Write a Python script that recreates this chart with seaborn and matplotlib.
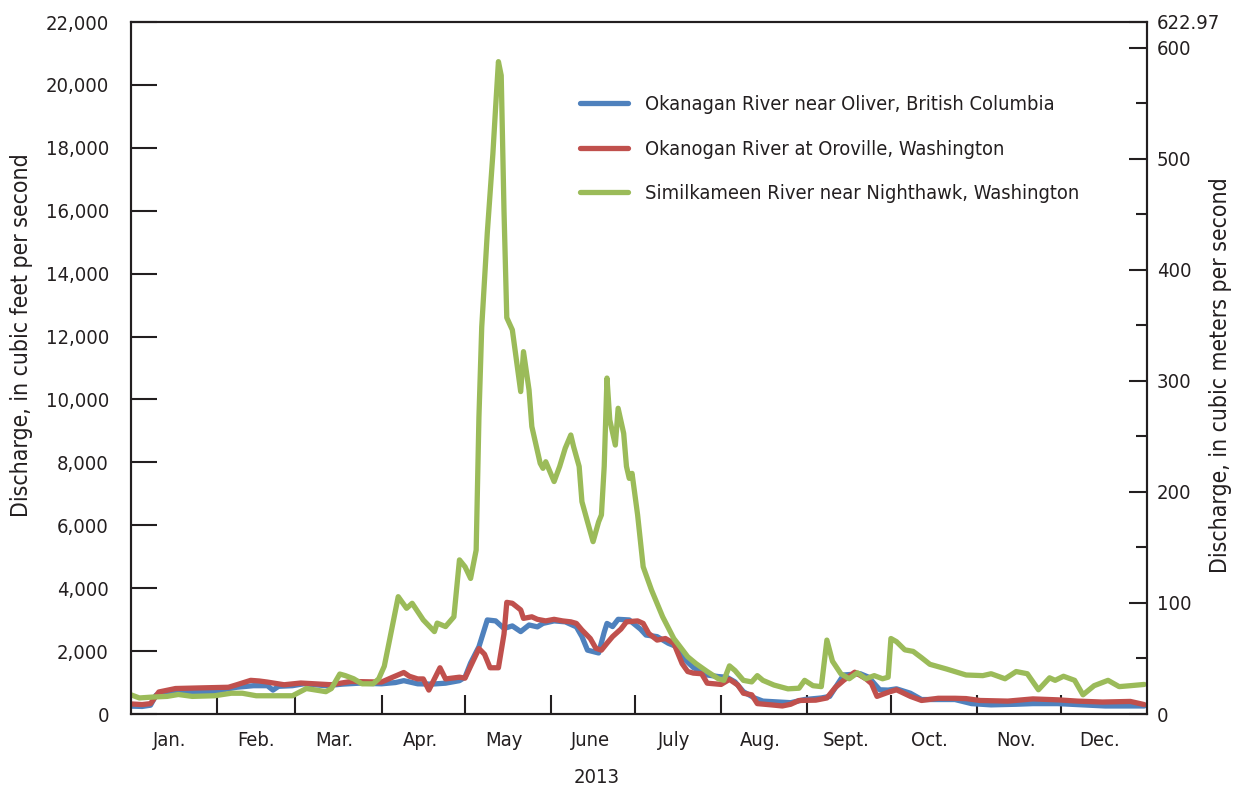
import numpy as np
import pandas as pd
import matplotlib
matplotlib.use("Agg")
import matplotlib.pyplot as plt
import matplotlib.dates as mdates
from matplotlib.ticker import FixedLocator, FixedFormatter, NullFormatter
from matplotlib.lines import Line2D
import seaborn as sns

# Daily discharge, 2013 (day offset from Jan 1, cubic feet per second)
oliver_day = [0, 4, 7, 9, 12, 20, 30, 38, 44, 49, 51, 53, 58, 62, 70, 76, 82, 90, 95, 98,
              103, 108, 113, 118, 120, 122, 125, 128, 131, 134, 137, 140, 143, 146, 148,
              152, 156, 160, 162, 164, 168, 170, 171, 173, 175, 179, 183, 185, 189, 193,
              196, 199, 202, 207, 211, 214, 217, 220, 224, 227, 233, 237, 242, 248, 251,
              254, 256, 262, 265, 269, 272, 275, 280, 284, 290, 296, 302, 309, 318, 324,
              333, 342, 350, 359, 364]
oliver_cfs = [250, 240, 280, 600, 680, 700, 720, 850, 900, 900, 760, 880, 900, 960, 900,
              950, 980, 960, 1000, 1060, 960, 950, 980, 1060, 1170, 1620, 2140, 2990, 2960,
              2720, 2800, 2620, 2830, 2770, 2880, 2960, 2930, 2770, 2460, 2030, 1940, 2600,
              2880, 2780, 3010, 2990, 2700, 2510, 2460, 2250, 2140, 1730, 1480, 1240, 1190,
              1170, 1020, 710, 510, 410, 380, 360, 460, 510, 560, 970, 1240, 1280, 1170,
              770, 760, 800, 660, 460, 460, 460, 330, 290, 310, 330, 330, 290, 255, 255, 255]

oroville_day = [0, 4, 7, 10, 16, 25, 35, 38, 43, 46, 49, 55, 61, 72, 79, 90, 94, 98, 100,
                103, 105, 107, 111, 113, 118, 120, 122, 125, 127, 129, 132, 134, 135, 137,
                140, 141, 144, 146, 149, 152, 155, 158, 160, 162, 165, 167, 169, 171, 173,
                176, 178, 182, 184, 186, 189, 192, 195, 196, 198, 200, 202, 205, 207, 212,
                215, 218, 220, 223, 225, 230, 234, 237, 240, 246, 250, 253, 256, 260, 264,
                266, 268, 272, 275, 280, 284, 290, 296, 300, 305, 315, 324, 333, 340, 349,
                359, 364]
oroville_cfs = [320, 300, 330, 700, 810, 830, 850, 930, 1070, 1050, 1015, 930, 985, 930,
                1035, 1015, 1170, 1320, 1200, 1115, 1115, 760, 1470, 1115, 1170, 1140, 1520,
                2080, 1900, 1470, 1470, 2540, 3550, 3520, 3310, 3040, 3090, 3010, 2960, 3010,
                2960, 2930, 2880, 2670, 2400, 2090, 2030, 2250, 2460, 2700, 2930, 2960, 2880,
                2560, 2350, 2400, 2250, 2030, 1600, 1350, 1300, 1280, 980, 940, 1100, 920,
                660, 610, 330, 290, 255, 310, 430, 440, 510, 840, 1070, 1330, 1120, 970, 560,
                690, 770, 560, 430, 500, 500, 490, 430, 410, 480, 450, 410, 380, 400, 300]

nighthawk_day = [0, 3, 8, 13, 17, 22, 30, 36, 40, 45, 58, 63, 70, 72, 75, 77, 80, 83, 87,
                 89, 91, 93, 96, 99, 101, 105, 109, 110, 113, 116, 118, 120, 122, 124, 125,
                 126, 128, 130, 131, 132, 133, 134, 135, 137, 140, 141, 143, 144, 147, 148,
                 149, 152, 154, 156, 158, 159, 161, 162, 164, 166, 168, 169, 170, 171, 172,
                 174, 175, 177, 178, 179, 180, 182, 184, 187, 191, 195, 200, 203, 207, 211,
                 213, 215, 217, 220, 223, 225, 227, 231, 236, 240, 242, 245, 248, 250, 252,
                 255, 258, 261, 264, 267, 270, 272, 273, 275, 278, 281, 284, 287, 293, 300,
                 306, 309, 314, 318, 322, 326, 330, 332, 335, 339, 342, 346, 351, 355, 359,
                 364]
nighthawk_cfs = [610, 510, 540, 560, 620, 560, 580, 660, 660, 580, 580, 810, 710, 810, 1270,
                 1220, 1120, 960, 960, 1120, 1520, 2400, 3730, 3360, 3520, 2990, 2620, 2890,
                 2780, 3090, 4900, 4680, 4310, 5210, 9450, 12300, 15300, 17800, 19300, 20740,
                 20300, 16000, 12600, 12210, 10250, 11520, 10300, 9140, 7970, 7810, 8020,
                 7390, 7870, 8450, 8870, 8500, 7870, 6750, 6110, 5480, 6110, 6330, 7870,
                 10680, 9350, 8550, 9720, 8920, 7870, 7490, 7650, 6330, 4680, 3940, 3090,
                 2400, 1820, 1600, 1350, 1120, 1070, 1530, 1380, 1070, 1020, 1220, 1070, 920,
                 800, 820, 1070, 900, 870, 2350, 1680, 1280, 1120, 1310, 1120, 1220, 1120,
                 1170, 2400, 2300, 2040, 1990, 1790, 1580, 1430, 1240, 1220, 1280, 1120, 1350,
                 1280, 770, 1150, 1070, 1200, 1070, 610, 900, 1070, 870, 900, 940]

station_names = ["Okanagan River near Oliver, British Columbia",
                 "Okanogan River at Oroville, Washington",
                 "Similkameen River near Nighthawk, Washington"]
station_colors = ["#4F81BD", "#C0504D", "#9BBB59"]

month_labels = ["Jan.", "Feb.", "Mar.", "Apr.", "May", "June",
                "July", "Aug.", "Sept.", "Oct.", "Nov.", "Dec."]
cfs_ticks = list(range(0, 22001, 2000))
cms_ticks = [0, 100, 200, 300, 400, 500, 600, 622.97]
cms_tick_labels = ["0", "100", "200", "300", "400", "500", "600", "622.97"]
cms_minor = [50, 150, 250, 350, 450, 550]

CFS_TO_CMS = 0.0283168
year_start = pd.Timestamp("2013-01-01")

frames = []
for name, days, vals in [(station_names[0], oliver_day, oliver_cfs),
                         (station_names[1], oroville_day, oroville_cfs),
                         (station_names[2], nighthawk_day, nighthawk_cfs)]:
    frames.append(pd.DataFrame({
        "date": year_start + pd.to_timedelta(days, unit="D"),
        "discharge": vals,
        "station": name,
    }))
df = pd.concat(frames, ignore_index=True)

sns.set_style("ticks")
ink = "#231f20"
plt.rcParams["font.family"] = ["DejaVu Sans"]
plt.rcParams["font.stretch"] = "condensed"
plt.rcParams["text.color"] = ink
plt.rcParams["axes.labelcolor"] = ink
plt.rcParams["xtick.color"] = ink
plt.rcParams["ytick.color"] = ink

FS = 14.5
LABEL_FS = 16.5

W, H = 1238, 791
L, R, T, B = 131, 1147, 22, 714

fig = plt.figure(figsize=(W / 100, H / 100), dpi=100)
ax = fig.add_axes([L / W, 1 - B / H, (R - L) / W, (B - T) / H])

sns.lineplot(data=df, x="date", y="discharge", hue="station", hue_order=station_names,
             palette=station_colors, estimator=None, sort=True, linewidth=3.8,
             ax=ax, legend=False)

ax.set_xlim(year_start, pd.Timestamp("2014-01-01"))
ax.set_ylim(0, 22000)

for s in ax.spines.values():
    s.set_linewidth(1.5)
    s.set_color(ink)

# Month boundaries carry tick marks; names sit at mid-month
month_starts = pd.date_range("2013-02-01", "2013-12-01", freq="MS")
mid_months = pd.date_range("2013-01-01", "2013-12-01", freq="MS") + pd.Timedelta(days=14)
ax.xaxis.set_major_locator(FixedLocator(mdates.date2num(month_starts)))
ax.xaxis.set_major_formatter(NullFormatter())
ax.xaxis.set_minor_locator(FixedLocator(mdates.date2num(mid_months)))
ax.xaxis.set_minor_formatter(FixedFormatter(month_labels))
ax.tick_params(axis="x", which="major", direction="in", length=13.5, width=1.5)
ax.tick_params(axis="x", which="minor", length=0, pad=12, labelsize=FS)

ax.set_yticks(cfs_ticks)
ax.set_yticklabels([f"{v:,}" for v in cfs_ticks])
ax.tick_params(axis="y", direction="in", length=18.5, width=1.5, pad=16, labelsize=FS)

ax.set_xlabel("2013", fontsize=FS)
ax.xaxis.set_label_coords((597 - L) / (R - L), -(768 - B) / (B - T))
ax.set_ylabel("Discharge, in cubic feet per second", fontsize=LABEL_FS)
ax.yaxis.set_label_coords(-(L - 33) / (R - L), (B - 335) / (B - T))

ax2 = ax.twinx()
ax2.set_ylim(0, 22000 * CFS_TO_CMS)
ax2.set_yticks(cms_ticks)
ax2.set_yticklabels(cms_tick_labels)
ax2.set_yticks(cms_minor, minor=True)
ax2.tick_params(axis="y", which="major", direction="in", length=13, width=1.5, pad=7,
                labelsize=FS)
ax2.tick_params(axis="y", which="minor", direction="in", length=8, width=1.5)
ax2.set_ylabel("Discharge, in cubic meters per second", fontsize=LABEL_FS)
ax2.yaxis.set_label_coords(1 + (1209 - R) / (R - L), (B - 375) / (B - T))
for s in ax2.spines.values():
    s.set_linewidth(1.5)
    s.set_color(ink)

handles = [Line2D([], [], color=c, linewidth=3.8, solid_capstyle="round")
           for c in station_colors]
ax.legend(handles, station_names, loc="upper left", frameon=False, fontsize=14.4,
          bbox_to_anchor=(580 / W, 1 - 95 / H), bbox_transform=fig.transFigure,
          borderpad=0, borderaxespad=0, handlelength=2.4, handletextpad=0.85,
          labelspacing=1.28)

fig.savefig("out.png", dpi=100)
